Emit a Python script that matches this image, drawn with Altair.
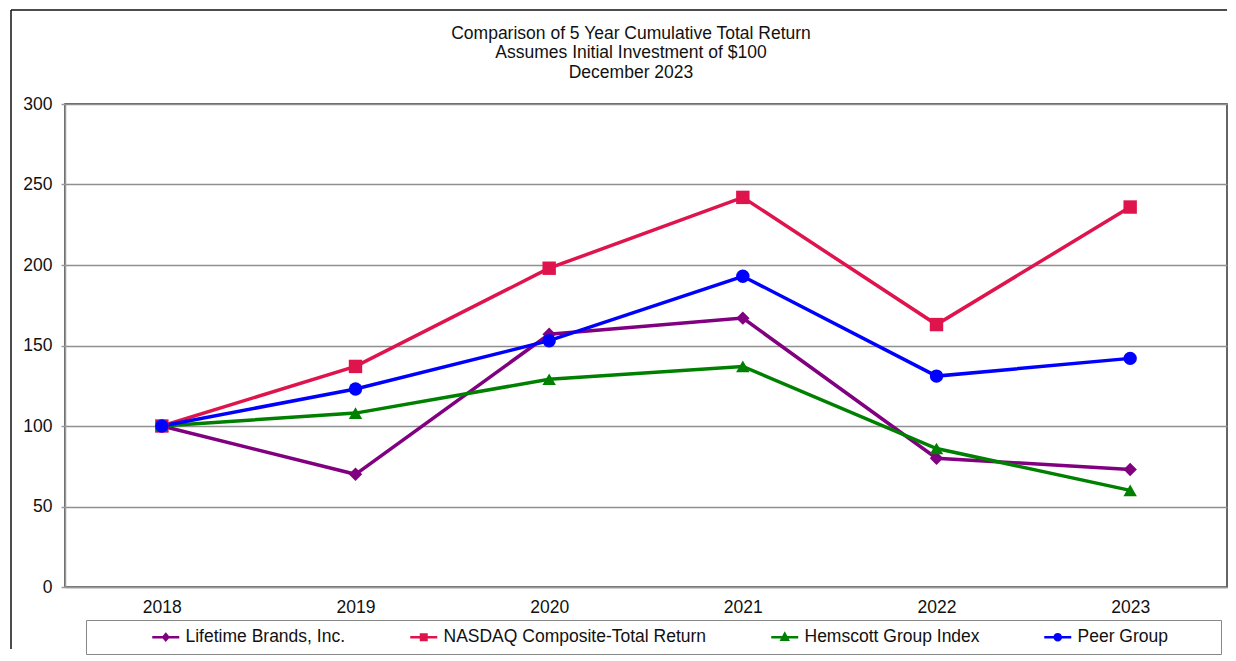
import altair as alt
import pandas as pd

years = ["2018", "2019", "2020", "2021", "2022", "2023"]
series_names = ["Lifetime Brands, Inc.", "NASDAQ Composite-Total Return",
                "Hemscott Group Index", "Peer Group"]
lifetime = [100, 70, 157, 167, 80, 73]
nasdaq = [100, 137, 198, 242, 163, 236]
hemscott = [100, 108, 129, 137, 86, 60]
peer = [100, 123, 153, 193, 131, 142]
colors = ["#800080", "#E0144C", "#008000", "#0000FF"]
plot_shapes = ["diamond", "square", "triangle-up", "circle"]
# legend glyphs: a short line with the series marker in its middle (unit ~6.7px)
legend_shapes = [
    "M-2.7,0H2.7M0,-0.6L0.5,0L0,0.6L-0.5,0Z",
    "M-2.7,0H2.7M-0.55,-0.55H0.55V0.55H-0.55Z",
    "M-2.7,0H2.7M0,-0.65L0.62,0.5H-0.62Z",
    "M-2.7,0H2.7M0.6,0A0.6,0.6 0 1,1 -0.6,0A0.6,0.6 0 1,1 0.6,0Z",
]

rows = []
for name, vals in zip(series_names, [lifetime, nasdaq, hemscott, peer]):
    for y, v in zip(years, vals):
        rows.append({"Year": y, "Value": v, "Series": name})
df = pd.DataFrame(rows)

FONT = "Liberation Sans"
FS = 17.5
W, H = 1162, 483

x_enc = alt.X("Year:O", scale=alt.Scale(type="point", padding=0.5, domain=years),
              axis=alt.Axis(title=None, labelAngle=0, ticks=False, labelPadding=11,
                            domainColor="#999999", domainWidth=1.5, grid=False))
y_enc = alt.Y("Value:Q", scale=alt.Scale(domain=[0, 300], nice=False),
              axis=alt.Axis(title=None, values=[0, 50, 100, 150, 200, 250, 300],
                            tickSize=4, tickColor="#999999", tickWidth=1.5,
                            labelPadding=9, domainColor="#999999", domainWidth=1.5,
                            gridColor="#8f8f8f", gridWidth=1.5))

col_scale = alt.Scale(domain=series_names, range=colors)
color_enc = alt.Color("Series:N", scale=col_scale, title=" ")

base = alt.Chart(df)

legend_layer = base.transform_filter("false").mark_point(filled=True, opacity=1).encode(
    x=x_enc, y=y_enc,
    color=color_enc,
    shape=alt.Shape("Series:N", scale=alt.Scale(domain=series_names, range=legend_shapes), title=" "),
)

lines = base.mark_line(strokeWidth=3.5).encode(
    x=x_enc, y=y_enc, color=color_enc,
)

point_layers = []
for name, shp in zip(series_names, plot_shapes):
    point_layers.append(
        base.transform_filter(alt.datum.Series == name)
        .mark_point(filled=True, opacity=1, shape=shp, size=180)
        .encode(x=x_enc, y=y_enc, color=color_enc)
    )

frame_data = alt.Data(values=[{"a": 1}])
frame_left = alt.Chart(frame_data).mark_rule(color="#111111", strokeWidth=1.5).encode(
    x=alt.value(-54), y=alt.value(-94), y2=alt.value(545))
frame_top = alt.Chart(frame_data).mark_rule(color="#111111", strokeWidth=1.5).encode(
    x=alt.value(-54), x2=alt.value(1162), y=alt.value(-94))

chart = alt.layer(frame_left, frame_top, legend_layer, lines, *point_layers).properties(
    width=W, height=H,
    padding={"left": 2, "top": 1, "right": 0, "bottom": 0},
    title=alt.TitleParams(
        text=["Comparison of 5 Year Cumulative Total Return",
              "Assumes Initial Investment of $100", "December 2023"],
        anchor="middle", fontSize=FS, font=FONT, fontWeight="normal",
        color="#111111", lineHeight=19.5, offset=-72, dx=-15,
    ),
).configure_view(
    stroke="#333333", strokeWidth=1.5
).configure_axis(
    labelFont=FONT, labelFontSize=FS, labelColor="#111111",
).configure_legend(
    orient="none", legendX=21, legendY=516, direction="horizontal",
    strokeColor="#888888", padding=8, symbolStrokeWidth=2.5,
    symbolOffset=63, columnPadding=6, labelOffset=11, labelLimit=0,
    labelFont=FONT, labelFontSize=FS, labelColor="#111111",
    symbolOpacity=1, titleOrient="right", titlePadding=45, titleFontSize=10,
)

chart.save("out.html", embed_options={"renderer": "svg", "actions": False})
